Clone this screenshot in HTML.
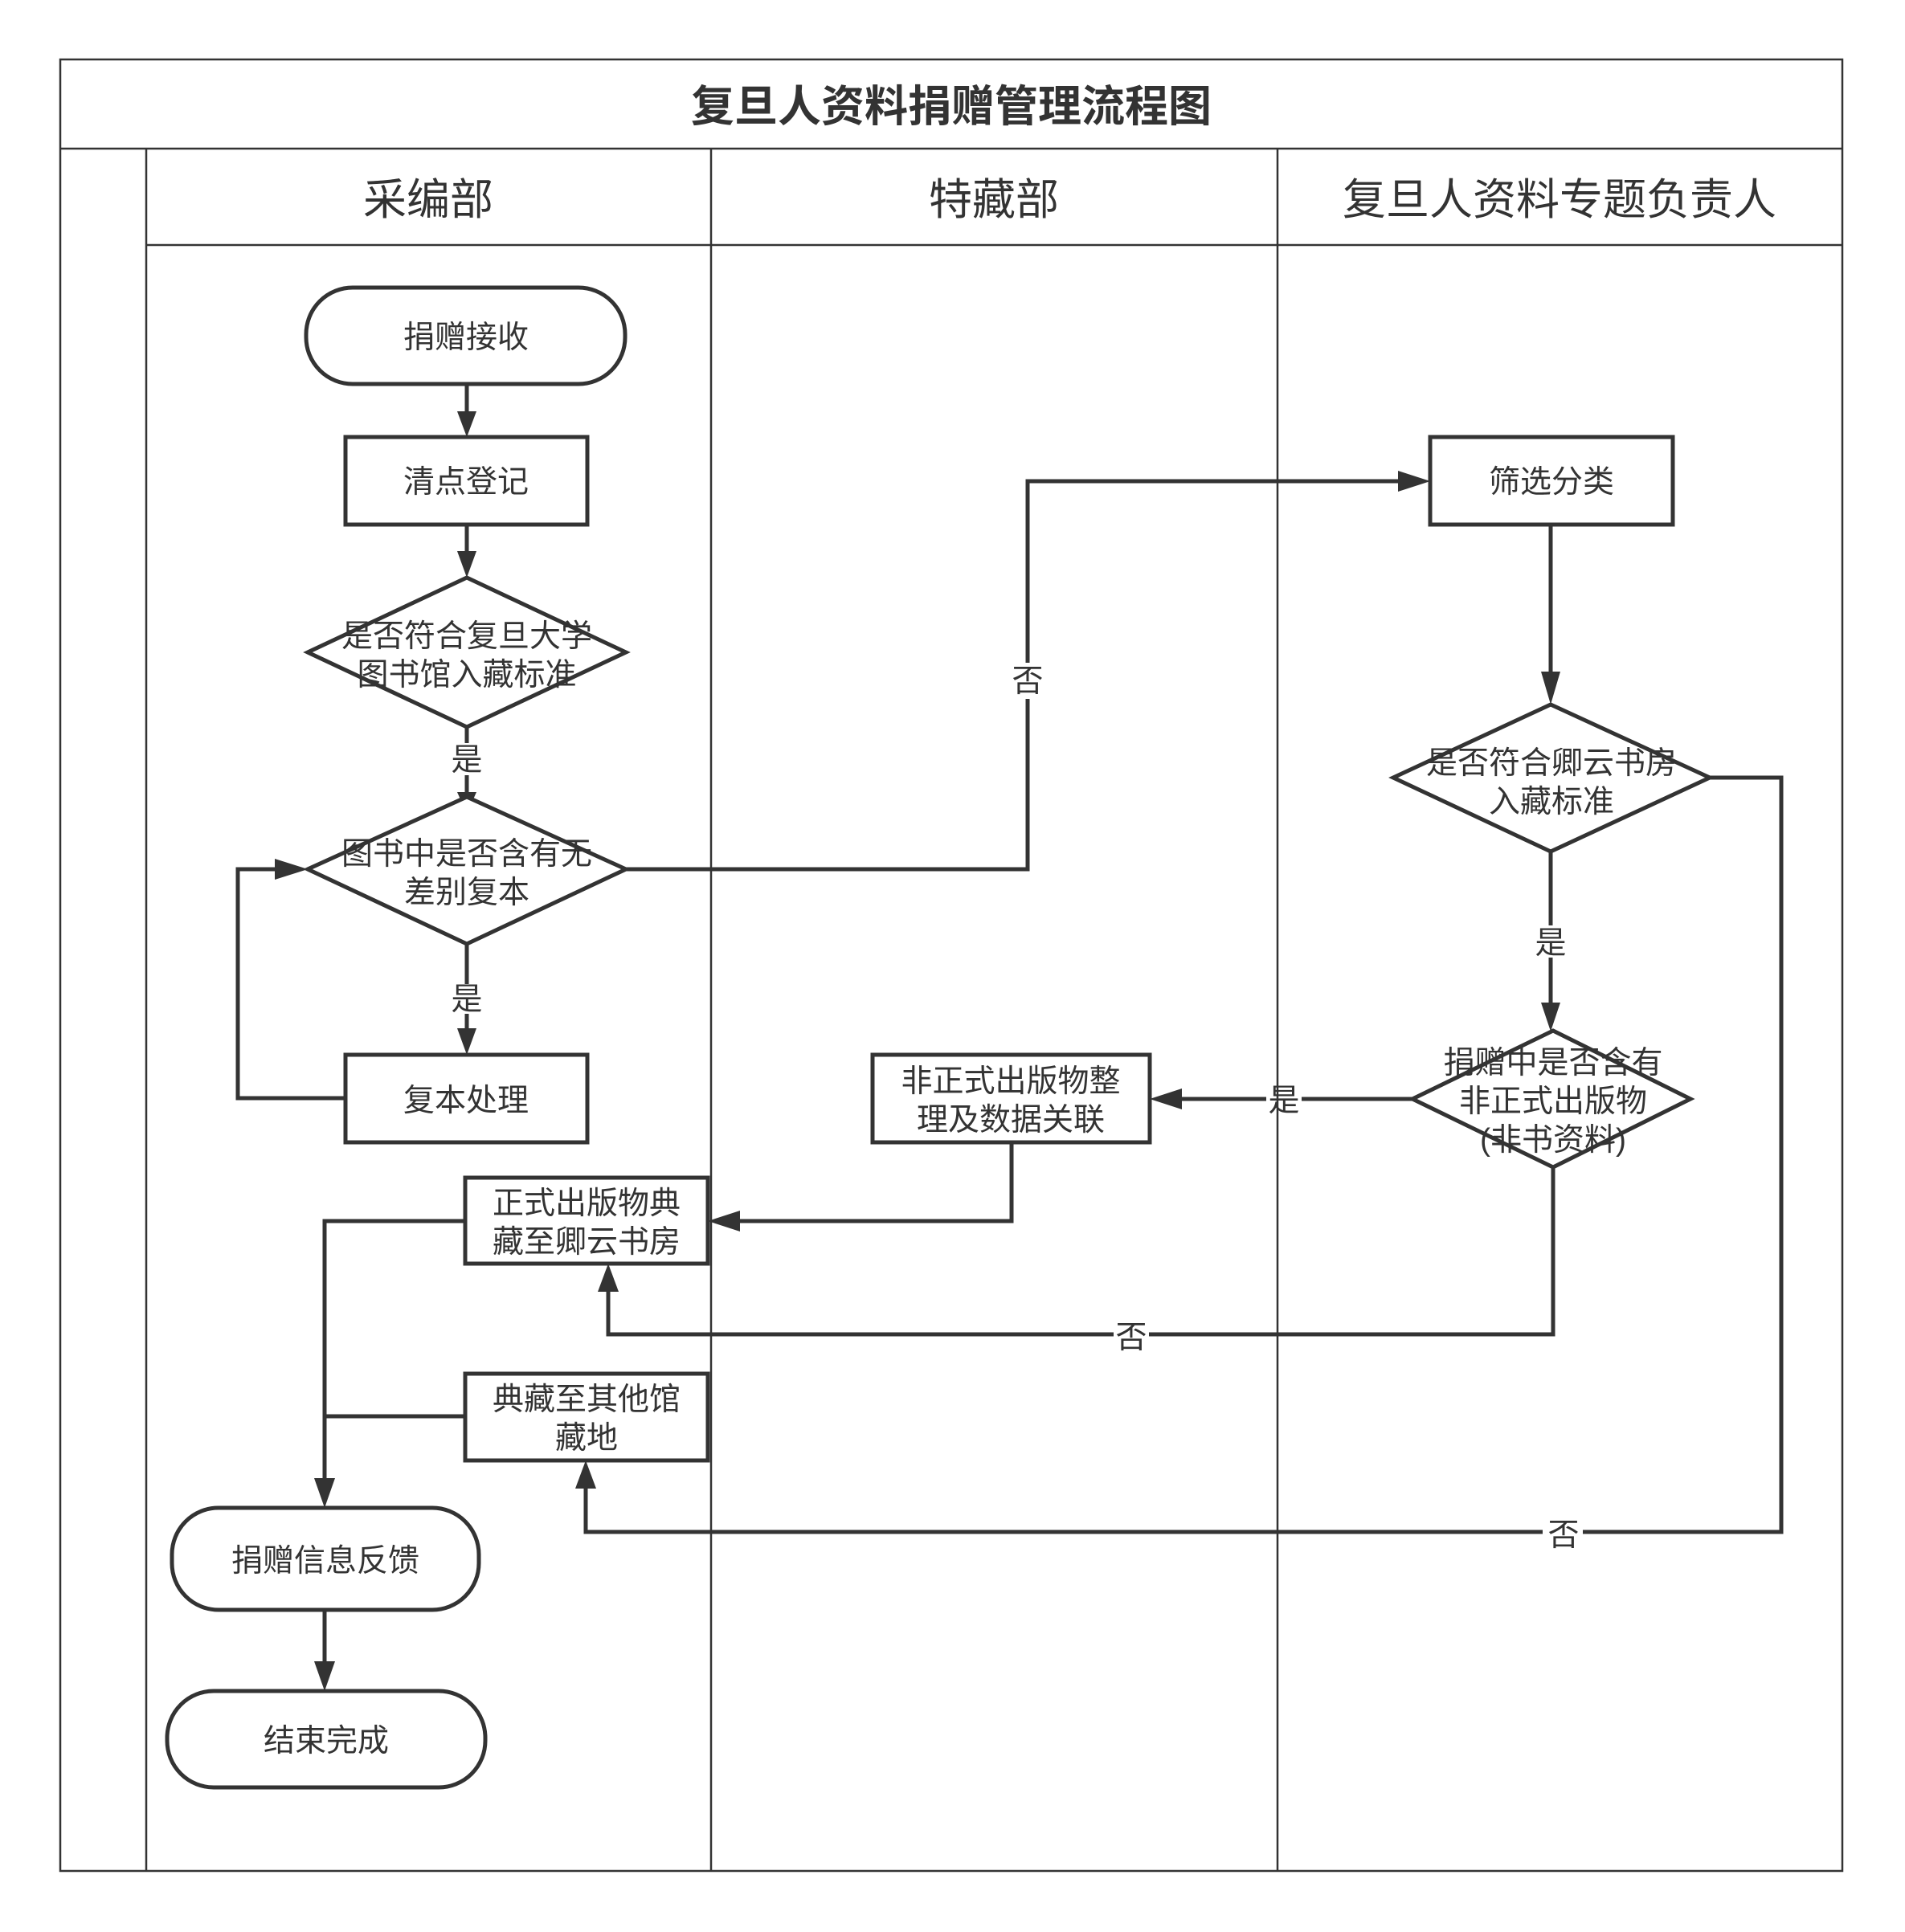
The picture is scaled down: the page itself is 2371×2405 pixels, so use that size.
<!DOCTYPE html>
<html><head><meta charset="utf-8"><style>
html,body{margin:0;padding:0;background:#fff;}
svg{display:block;}
text{font-family:"Liberation Sans","Noto Sans CJK SC",sans-serif;fill:#333;}
</style></head><body>
<svg width="2371" height="2405" viewBox="0 0 2371 2405" xmlns="http://www.w3.org/2000/svg">
<rect width="2371" height="2405" fill="#fff"/>
<g stroke="#333" fill="none" stroke-width="2.5">
<rect x="75" y="74" width="2218" height="2255"/>
<line x1="75" y1="185" x2="2293" y2="185"/>
<line x1="182" y1="185" x2="182" y2="2329"/>
<line x1="885" y1="185" x2="885" y2="2329"/>
<line x1="1590" y1="185" x2="1590" y2="2329"/>
<line x1="182" y1="305" x2="2293" y2="305"/>
</g>
<text x="1184" y="151" font-size="54" font-weight="bold" text-anchor="middle">复旦人资料捐赠管理流程图</text>
<g font-size="54" text-anchor="middle">
<text x="533" y="267">采编部</text>
<text x="1237" y="267">特藏部</text>
<text x="1941" y="267">复旦人资料专题负责人</text>
</g>
<g stroke="#333" stroke-width="5" fill="none">
<polyline points="581,478 581,520"/>
<polyline points="581,653 581,692"/>
<polyline points="581,905 581,925"/>
<polyline points="581,965 581,992"/>
<polyline points="581,1175 581,1225"/>
<polyline points="581,1262 581,1283"/>
<polyline points="430,1367 296,1367 296,1082 355,1082"/>
<polyline points="779,1082 1279,1082 1279,870"/>
<polyline points="1279,825 1279,599 1750,599"/>
<polyline points="1930,653 1930,845"/>
<polyline points="1930,1060 1930,1152"/>
<polyline points="1930,1192 1930,1255"/>
<polyline points="2128,968 2217,968 2217,1907 1970,1907"/>
<polyline points="1920,1907 729,1907 729,1848"/>
<polyline points="1758,1368 1620,1368"/>
<polyline points="1576,1368 1461,1368"/>
<polyline points="1259,1422 1259,1520 911,1520"/>
<polyline points="1933,1453 1933,1661 1430,1661"/>
<polyline points="1386,1661 757,1661 757,1603"/>
<polyline points="579,1520 404,1520 404,1847"/>
<polyline points="579,1763 404,1763"/>
<polyline points="404,2004 404,2075"/>
</g>
<g fill="#333">
<polygon points="569,512 593,512 581,544"/>
<polygon points="569,686 593,686 581,719"/>
<polygon points="569,986 593,986 581,1013"/>
<polygon points="569,1280 593,1280 581,1313"/>
<polygon points="342,1069 342,1095 383,1082"/>
<polygon points="1740,586 1740,612 1780,599"/>
<polygon points="1918,836 1942,836 1930,877"/>
<polygon points="1918,1248 1942,1248 1930,1284"/>
<polygon points="1471,1355 1471,1381 1431,1368"/>
<polygon points="921,1507 921,1533 881,1520"/>
<polygon points="744,1608 770,1608 757,1573"/>
<polygon points="716,1853 742,1853 729,1818"/>
<polygon points="391,1840 417,1840 404,1877"/>
<polygon points="391,2068 417,2068 404,2105"/>
</g>
<g stroke="#333" stroke-width="5" fill="#fff">
<rect x="381" y="358" width="397" height="120" rx="58"/>
<rect x="430" y="544" width="301" height="109"/>
<polygon points="581,719 779,812 581,905 383,812"/>
<polygon points="581,992 779,1082 581,1175 383,1082"/>
<rect x="430" y="1313" width="301" height="109"/>
<rect x="1780" y="544" width="302" height="109"/>
<polygon points="1930,877 2128,968 1930,1060 1734,968"/>
<polygon points="1933,1283 2104,1368 1933,1453 1758,1368"/>
<rect x="1086" y="1313" width="345" height="109"/>
<rect x="579" y="1466" width="302" height="107"/>
<rect x="579" y="1710" width="302" height="108"/>
<rect x="214" y="1877" width="382" height="127" rx="58"/>
<rect x="208" y="2105" width="396" height="120" rx="58"/>
</g>
<g font-size="39" text-anchor="middle">
<text x="580" y="433">捐赠接收</text>
<text x="580" y="613">清点登记</text>
<text x="581" y="805">是否符合复旦大学</text>
<text x="581" y="853">图书馆入藏标准</text>
<text x="581" y="959">是</text>
<text x="581" y="1076">图书中是否含有无</text>
<text x="581" y="1124">差别复本</text>
<text x="581" y="1257">是</text>
<text x="580" y="1383">复本处理</text>
<text x="1279" y="861">否</text>
<text x="1931" y="613">筛选分类</text>
<text x="1931" y="963">是否符合卿云书房</text>
<text x="1931" y="1011">入藏标准</text>
<text x="1930" y="1187">是</text>
<text x="1933" y="1336">捐赠中是否含有</text>
<text x="1933" y="1384">非正式出版物</text>
<text x="1933" y="1432">(非书资料)</text>
<text x="1598" y="1383">是</text>
<text x="1258" y="1359">非正式出版物整</text>
<text x="1258" y="1407">理及数据关联</text>
<text x="730" y="1511">正式出版物典</text>
<text x="730" y="1559">藏至卿云书房</text>
<text x="1408" y="1678">否</text>
<text x="730" y="1755">典藏至其他馆</text>
<text x="730" y="1803">藏地</text>
<text x="1946" y="1924">否</text>
<text x="405" y="1956">捐赠信息反馈</text>
<text x="406" y="2180">结束完成</text>
</g>
</svg>
</body></html>
